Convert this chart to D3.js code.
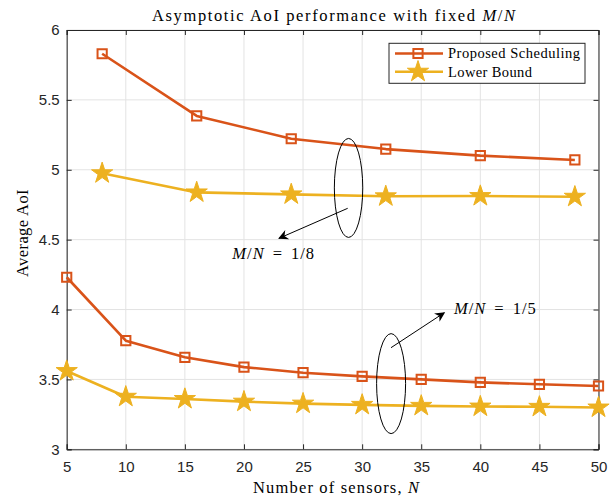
<!DOCTYPE html>
<html>
<head>
<meta charset="utf-8">
<script src="https://cdn.jsdelivr.net/npm/d3@7"></script>
<style>
  html, body { margin: 0; padding: 0; background: #fff; }
  svg { display: block; }
</style>
</head>
<body>
<svg id="chart" width="611" height="498"></svg>
<script>
// ---- data ----
const xTicks = [5, 10, 15, 20, 25, 30, 35, 40, 45, 50];
const yTicks = [3, 3.5, 4, 4.5, 5, 5.5, 6];
const nEighth = [8, 16, 24, 32, 40, 48];
const propEighth = [5.83, 5.385, 5.222, 5.148, 5.101, 5.07];
const lbEighth = [4.975, 4.838, 4.824, 4.81, 4.812, 4.807];
const nFifth = [5, 10, 15, 20, 25, 30, 35, 40, 45, 50];
const propFifth = [4.231, 3.777, 3.658, 3.588, 3.548, 3.522, 3.5, 3.479, 3.465, 3.453];
const lbFifth = [3.56, 3.376, 3.36, 3.341, 3.327, 3.318, 3.311, 3.306, 3.304, 3.299];
const seriesNames = ["Proposed Scheduling", "Lower Bound"];
const titleText = "Asymptotic AoI performance with fixed ";
const xLabelText = "Number of sensors, ";
const yLabelText = "Average AoI";

// ---- layout ----
const colProp = "#D95319", colLB = "#EDB120";
const svg = d3.select("#chart");
const L = 66.7, R = 598.5, T = 30, B = 449.3;
const x = d3.scaleLinear().domain([5, 50]).range([L, R]);
const y = d3.scaleLinear().domain([3, 6]).range([B, T]);
const serif = "'Liberation Serif', 'DejaVu Serif', serif";
const sans = "'Liberation Sans', Arial, sans-serif";

// grid
const g = svg.append("g");
g.selectAll("line.gx").data(xTicks).join("line")
  .attr("x1", d => x(d)).attr("x2", d => x(d)).attr("y1", T).attr("y2", B)
  .attr("stroke", "#e3e3e3").attr("stroke-width", 1);
g.selectAll("line.gy").data(yTicks).join("line")
  .attr("y1", d => y(d)).attr("y2", d => y(d)).attr("x1", L).attr("x2", R)
  .attr("stroke", "#e3e3e3").attr("stroke-width", 1);

// axes
const axB = d3.axisBottom(x).tickValues(xTicks).tickSize(-5).tickPadding(12).tickFormat(d3.format("d"));
const axT = d3.axisTop(x).tickValues(xTicks).tickSize(-5).tickFormat("");
const axL = d3.axisLeft(y).tickValues(yTicks).tickSize(-5).tickPadding(7).tickFormat(d => d);
const axR = d3.axisRight(y).tickValues(yTicks).tickSize(-5).tickFormat("");
function style(sel) {
  sel.selectAll("path").attr("stroke", "#262626").attr("stroke-width", 1);
  sel.selectAll("line").attr("stroke", "#262626").attr("stroke-width", 1);
  sel.selectAll("text").attr("fill", "#262626").style("font-family", sans).style("font-size", "15px");
}
svg.append("g").attr("transform", `translate(0,${B})`).call(axB).call(style);
svg.append("g").attr("transform", `translate(0,${T})`).call(axT).call(style);
svg.append("g").attr("transform", `translate(${L},0)`).call(axL).call(style);
svg.append("g").attr("transform", `translate(${R},0)`).call(axR).call(style);

// series
const line = d3.line().x(d => x(d[0])).y(d => y(d[1]));
const sqSym = d3.symbol(d3.symbolSquare, 85);
const starSym = d3.symbol(d3.symbolStar, 140);
function drawSeries(xs, ys, color, kind) {
  const pts = xs.map((v, i) => [v, ys[i]]);
  svg.append("path").datum(pts).attr("d", line)
    .attr("fill", "none").attr("stroke", color).attr("stroke-width", 2.6).attr("stroke-linejoin", "round");
  svg.append("g").selectAll("path").data(pts).join("path")
    .attr("transform", d => `translate(${x(d[0])},${y(d[1])})`)
    .attr("d", kind === "square" ? sqSym : starSym)
    .attr("fill", kind === "square" ? "none" : color)
    .attr("stroke", color).attr("stroke-width", kind === "square" ? 2 : 1);
}
drawSeries(nEighth, propEighth, colProp, "square");
drawSeries(nEighth, lbEighth, colLB, "star");
drawSeries(nFifth, propFifth, colProp, "square");
drawSeries(nFifth, lbFifth, colLB, "star");

// annotations
const defs = svg.append("defs");
defs.append("marker").attr("id", "arr").attr("viewBox", "0 0 10 10")
  .attr("refX", 9).attr("refY", 5).attr("markerWidth", 14).attr("markerHeight", 10)
  .attr("markerUnits", "userSpaceOnUse").attr("orient", "auto")
  .append("path").attr("d", "M0,0 L10,5 L0,10 L3,5 Z").attr("fill", "#000");

function ellipseAt(cx, cy, rx, ry) {
  svg.append("ellipse").attr("cx", cx).attr("cy", cy).attr("rx", rx).attr("ry", ry)
    .attr("fill", "none").attr("stroke", "#000").attr("stroke-width", 1);
}
ellipseAt(x(28.85), y(4.87), 14.2, 49.5);
ellipseAt(x(32.45), y(3.47), 14.5, 50);
svg.append("line").attr("x1", 347.7).attr("y1", 208.3).attr("x2", 279).attr("y2", 238.3)
  .attr("stroke", "#000").attr("stroke-width", 1).attr("marker-end", "url(#arr)");
svg.append("line").attr("x1", 391).attr("y1", 347.7).attr("x2", 444.3).attr("y2", 312.7)
  .attr("stroke", "#000").attr("stroke-width", 1).attr("marker-end", "url(#arr)");

function mnLabel(tx, ty, frac) {
  const t = svg.append("text").attr("x", tx).attr("y", ty)
    .style("font-family", serif).style("font-size", "16.5px").attr("fill", "#000");
  t.append("tspan").style("font-style", "italic").text("M");
  t.append("tspan").attr("dx", 1).text("/");
  t.append("tspan").attr("dx", 1).style("font-style", "italic").text("N");
  t.append("tspan").attr("dx", 9).text("=");
  t.append("tspan").attr("dx", 9).style("letter-spacing", "1px").text(frac);
}
mnLabel(232.3, 258.5, "1/8");
mnLabel(454, 313.5, "1/5");

// legend
const lg = svg.append("g");
lg.append("rect").attr("x", 389).attr("y", 43.3).attr("width", 196).attr("height", 40)
  .attr("fill", "#fff").attr("stroke", "#262626").attr("stroke-width", 1);
const legRows = [
  { name: seriesNames[0], color: colProp, kind: "square", cy: 53.5, w: 132 },
  { name: seriesNames[1], color: colLB, kind: "star", cy: 71.7, w: 84 }
];
legRows.forEach(r => {
  lg.append("line").attr("x1", 395).attr("x2", 443).attr("y1", r.cy).attr("y2", r.cy)
    .attr("stroke", r.color).attr("stroke-width", 2.6);
  lg.append("path").attr("transform", `translate(418,${r.cy})`)
    .attr("d", r.kind === "square" ? sqSym() : starSym())
    .attr("fill", r.kind === "square" ? "none" : r.color)
    .attr("stroke", r.color).attr("stroke-width", r.kind === "square" ? 2 : 1);
  lg.append("text").attr("x", 448).attr("y", r.cy + 4.8).text(r.name)
    .attr("textLength", r.w).attr("lengthAdjust", "spacing")
    .style("font-family", serif).style("font-size", "14.5px").attr("fill", "#000");
});

// title & labels
const tt = svg.append("text").attr("x", 152).attr("y", 20.7)
  .attr("textLength", 363).attr("lengthAdjust", "spacing")
  .style("font-family", serif).style("font-size", "16.5px").attr("fill", "#000");
tt.append("tspan").text(titleText);
tt.append("tspan").style("font-style", "italic").text("M");
tt.append("tspan").text("/");
tt.append("tspan").style("font-style", "italic").text("N");

const xl = svg.append("text").attr("x", 253).attr("y", 492.7)
  .attr("textLength", 166).attr("lengthAdjust", "spacing")
  .style("font-family", serif).style("font-size", "16.5px").attr("fill", "#000");
xl.append("tspan").text(xLabelText);
xl.append("tspan").style("font-style", "italic").text("N");

svg.append("text").attr("transform", "translate(28,233) rotate(-90)").attr("text-anchor", "middle")
  .style("font-family", serif).style("font-size", "16.5px").style("letter-spacing", "0.4px")
  .attr("fill", "#000").text(yLabelText);
</script>
</body>
</html>
